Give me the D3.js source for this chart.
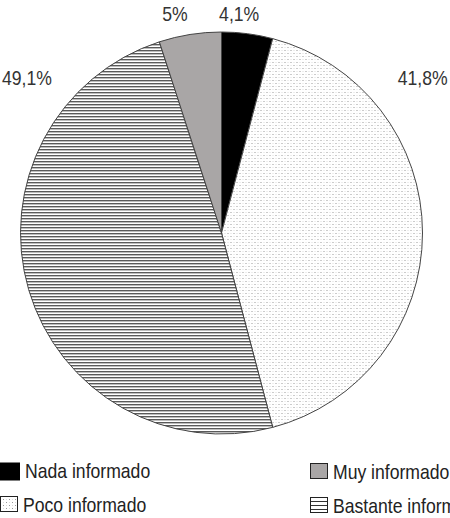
<!DOCTYPE html>
<html lang="es">
<head>
<meta charset="UTF-8">
<script src="https://d3js.org/d3.v7.min.js"></script>
<style>
  body { margin: 0; background: #fff; }
  svg { display: block; font-family: 'Liberation Sans', Arial, sans-serif; }
</style>
</head>
<body>
<div id="chart"></div>
<script>
// data, clockwise from 12 o'clock
const categories = ["Nada informado", "Poco informado", "Bastante informado", "Muy informado"];
const values = [4.1, 41.8, 49.1, 5];
const labels = ["4,1%", "41,8%", "49,1%", "5%"];

const width = 450, height = 518;
const cx = 221.5, cy = 233, r = 201;
const squeeze = 0.88; // narrow look of the original font

const svg = d3.select("#chart").append("svg")
    .attr("width", width)
    .attr("height", height);

const defs = svg.append("defs");

// dotted fill
const dots = defs.append("pattern").attr("id", "dots")
    .attr("patternUnits", "userSpaceOnUse").attr("width", 6).attr("height", 6);
dots.append("rect").attr("width", 6).attr("height", 6).attr("fill", "#fff");
dots.append("rect").attr("x", 0).attr("y", 0).attr("width", 1).attr("height", 1).attr("fill", "#999");
dots.append("rect").attr("x", 3).attr("y", 3).attr("width", 1).attr("height", 1).attr("fill", "#999");
dots.append("rect").attr("x", 3).attr("y", 0).attr("width", 1).attr("height", 1).attr("fill", "#ddd");
dots.append("rect").attr("x", 0).attr("y", 3).attr("width", 1).attr("height", 1).attr("fill", "#ddd");

// horizontal lines fill
const lines = defs.append("pattern").attr("id", "hlines")
    .attr("patternUnits", "userSpaceOnUse").attr("width", 6).attr("height", 3);
lines.append("rect").attr("width", 6).attr("height", 3).attr("fill", "#fff");
lines.append("rect").attr("y", 0).attr("width", 6).attr("height", 1).attr("fill", "#5a5a5a");
lines.append("rect").attr("y", 1).attr("width", 6).attr("height", 1).attr("fill", "#bdbdbd");

// coarser lines for the legend key
const keyLines = defs.append("pattern").attr("id", "keylines")
    .attr("patternUnits", "userSpaceOnUse").attr("width", 6).attr("height", 4);
keyLines.append("rect").attr("width", 6).attr("height", 4).attr("fill", "#fff");
keyLines.append("rect").attr("y", 0).attr("width", 6).attr("height", 1).attr("fill", "#333");

const fills = ["#000", "url(#dots)", "url(#hlines)", "#a9a6a6"];
const keyFills = ["#000", "url(#dots)", "url(#keylines)", "#a9a6a6"];

const pie = d3.pie().sort(null).value(d => d);
const arc = d3.arc().innerRadius(0).outerRadius(r);

const g = svg.append("g").attr("transform", `translate(${cx},${cy})`);

g.selectAll("path")
  .data(pie(values))
  .join("path")
    .attr("d", arc)
    .attr("fill", (d, i) => fills[i])
    .attr("stroke", "#444")
    .attr("stroke-width", 1);

// label placement (angle in degrees, radius)
const labelPos = [[4.6, 220], [52.4, 254], [-51.4, 249], [-12, 224]];
g.selectAll("text.pct")
  .data(labels)
  .join("text")
    .attr("class", "pct")
    .attr("transform", (d, i) => {
      const p = d3.pointRadial(labelPos[i][0] * Math.PI / 180, labelPos[i][1]);
      return `translate(${p[0]},${p[1]}) scale(${squeeze},1)`;
    })
    .attr("text-anchor", "middle")
    .attr("dominant-baseline", "central")
    .attr("font-size", 20)
    .attr("fill", "#333")
    .text(d => d);

// legend: Nada, Poco (left column), Muy, Bastante (right column)
const legendOrder = [0, 1, 3, 2];
const legend = svg.selectAll("g.leg")
  .data(legendOrder)
  .join("g")
    .attr("class", "leg")
    .attr("transform", (d, j) => `translate(${j < 2 ? 0 : 310},${(j % 2 === 0 ? 462 : 496) + (j < 2 ? 0 : 1)})`);

legend.append("rect")
    .attr("x", d => d === 0 ? -2 : 0.5)
    .attr("y", 0.5)
    .attr("width", d => d === 0 ? 22 : 17)
    .attr("height", d => d === 0 ? 18 : 15)
    .attr("fill", d => keyFills[d])
    .attr("stroke", d => d === 0 ? "none" : "#222");

legend.append("text")
    .attr("transform", d => `translate(${d === 0 ? 25 : 23},16) scale(${squeeze},1)`)
    .attr("font-size", 20)
    .attr("fill", "#222")
    .text(d => categories[d]);
</script>
</body>
</html>
